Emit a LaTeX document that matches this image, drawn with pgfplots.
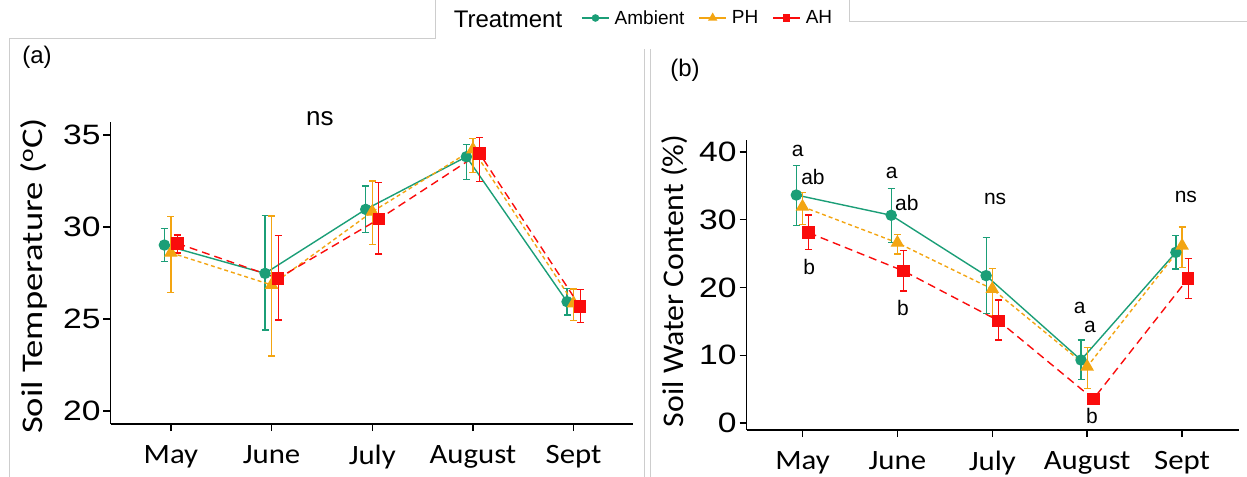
\documentclass[border=0pt]{standalone}
\usepackage{fontspec}
\setmainfont{Liberation Sans}
\newfontfamily\carlito{Carlito}
\usepackage{pgfplots}
\usepackage{pgfplotstable}
\pgfplotsset{compat=1.18}
\definecolor{amb}{RGB}{27,158,119}
\definecolor{ph}{RGB}{243,165,18}
\definecolor{ah}{RGB}{250,12,12}
\definecolor{frame}{RGB}{205,205,205}

% Panel (a): soil temperature
\pgfplotstableread{
x y lo hi
-0.065 29.02 28.11 29.93
0.935 27.48 24.40 30.61
1.935 30.96 29.69 32.23
2.935 33.82 32.59 34.49
3.935 25.94 25.22 26.67
}\tAmb
\pgfplotstableread{
x y lo hi
0 28.60 26.43 30.56
1 26.85 22.99 30.60
2 30.83 29.06 32.50
3 34.22 32.95 34.82
4 25.85 24.91 26.63
}\tPH
\pgfplotstableread{
x y lo hi
0.065 29.11 28.59 29.57
1.065 27.21 24.95 29.53
2.065 30.43 28.53 32.43
3.065 34.00 32.46 34.87
4.065 25.67 24.80 26.61
}\tAH
% Panel (b): soil water content
\pgfplotstableread{
x y lo hi
-0.065 33.65 29.20 37.98
0.935 30.66 26.67 34.64
1.935 21.75 16.19 27.36
2.935 9.30 6.45 12.25
3.935 25.19 22.73 27.70
}\wAmb
\pgfplotstableread{
x y lo hi
0 31.93 29.25 34.05
1 26.60 24.94 27.85
2 19.78 15.79 22.83
3 8.31 5.12 11.17
4 26.17 22.98 28.93
}\wPH
\pgfplotstableread{
x y lo hi
0.065 28.09 25.63 30.70
1.065 22.44 19.48 25.44
2.065 15.10 12.25 18.15
3.065 3.54 2.80 4.38
4.065 21.35 18.40 24.30
}\wAH

\newcommand{\fs}[1]{\fontsize{#1bp}{#1bp}\selectfont}

\pgfplotsset{
  panel/.style={
    scale only axis,
    clip=false,
    axis lines=left,
    axis line style={-, black, line width=1.5bp},
    tick align=outside,
    major tick length=7bp,
    tick style={black, line width=1.4bp},
    xtick={0,1,2,3,4},
    xticklabels={May,June,July,August,Sept},
    xticklabel style={font=\carlito\fs{28}, xscale=1.1, yshift=-11bp},
    yticklabel style={font=\fs{28}, xscale=1.2, xshift=1bp},
    /pgf/number format/assume math mode=true,
    error bars/y dir=both,
    error bars/y explicit,
    error bars/error bar style={solid, line width=1.2bp},
    error bars/error mark options={rotate=90, solid, line width=1.2bp, mark size=3.5bp},
  },
  sAmb/.style={color=amb, line width=1.4bp, mark=*, mark size=5bp, mark options={solid}},
  sPH/.style={color=ph, line width=1.4bp, dash pattern=on 4bp off 3bp, mark=triangle*, mark size=6.5bp, mark options={solid}},
  sAH/.style={color=ah, line width=1.4bp, dash pattern=on 8bp off 5bp, mark=square*, mark size=5.5bp, mark options={solid}},
}

\begin{document}
\begin{tikzpicture}
\useasboundingbox (0bp,0bp) rectangle (1247bp,-477bp);
% panel frames
\draw[frame, line width=1bp] (9bp,-477bp) -- (9bp,-38bp) -- (435bp,-38bp) -- (435bp,0bp);
\draw[frame, line width=1bp] (849bp,0bp) -- (849bp,-21bp) -- (1247bp,-21bp);
\draw[frame, line width=1bp] (644bp,-49bp) -- (644bp,-477bp);
\draw[frame, line width=1bp] (650bp,-49bp) -- (650bp,-477bp);

\begin{axis}[panel,
  at={(110.5bp,-424bp)}, anchor=south west,
  width=522.5bp, height=302bp,
  xmin=-0.6, xmax=4.59, ymin=19.29, ymax=35.71,
  ytick={20,25,30,35},
  ylabel={Soil Temperature (\textsuperscript{o}C)},
  every axis y label/.style={at={(axis description cs:-0.147,0.49)}, rotate=90, xscale=1.22, anchor=center, font=\carlito\fs{30}},
  legend style={at={(axis description cs:0.9005,1.3444)}, anchor=west,
    draw=none, fill=none, inner sep=0pt, font=\fs{19},
    nodes={inner sep=0pt},
    /tikz/every odd column/.append style={column sep=5bp},
    /tikz/every even column/.append style={column sep=14bp}},
  legend columns=-1,
  legend image code/.code={
    \draw[#1, solid] (0bp,0bp) -- (27bp,0bp);
    \draw[#1, solid] plot coordinates {(13.5bp,0bp)};
  },
]
\addlegendimage{color=amb, line width=1.5bp, mark=*, mark size=3bp}
\addlegendentry{Ambient}
\addlegendimage{color=ph, line width=1.5bp, mark=triangle*, mark size=4bp}
\addlegendentry{PH}
\addlegendimage{color=ah, line width=1.5bp, mark=square*, mark size=3bp}
\addlegendentry{AH}

\addplot[sAmb, forget plot] table[x=x, y=y, y error plus expr=\thisrow{hi}-\thisrow{y}, y error minus expr=\thisrow{y}-\thisrow{lo}] {\tAmb};
\addplot[sPH, forget plot] table[x=x, y=y, y error plus expr=\thisrow{hi}-\thisrow{y}, y error minus expr=\thisrow{y}-\thisrow{lo}] {\tPH};
\addplot[sAH, forget plot] table[x=x, y=y, y error plus expr=\thisrow{hi}-\thisrow{y}, y error minus expr=\thisrow{y}-\thisrow{lo}] {\tAH};

\node[font=\fs{26}] at (axis cs:1.48,35.87) {ns};
\end{axis}

\begin{axis}[panel,
  at={(746.5bp,-430bp)}, anchor=south west,
  width=492.5bp, height=290bp,
  xmin=-0.59, xmax=4.6, ymin=-1.03, ymax=41.77,
  ytick={0,10,20,30,40},
  ylabel={Soil Water Content (\%)},
  every axis y label/.style={at={(axis description cs:-0.147,0.514)}, rotate=90, xscale=1.06, anchor=center, font=\carlito\fs{30}},
]
\addplot[sAmb] table[x=x, y=y, y error plus expr=\thisrow{hi}-\thisrow{y}, y error minus expr=\thisrow{y}-\thisrow{lo}] {\wAmb};
\addplot[sPH] table[x=x, y=y, y error plus expr=\thisrow{hi}-\thisrow{y}, y error minus expr=\thisrow{y}-\thisrow{lo}] {\wPH};
\addplot[sAH] table[x=x, y=y, y error plus expr=\thisrow{hi}-\thisrow{y}, y error minus expr=\thisrow{y}-\thisrow{lo}] {\wAH};

\begin{scope}[every node/.style={font=\fs{21}}]
\node at (axis cs:-0.05,40.1) {a};
\node at (axis cs:0.11,36.3) {ab};
\node at (axis cs:0.07,23.1) {b};
\node at (axis cs:0.94,36.9) {a};
\node at (axis cs:1.10,32.5) {ab};
\node at (axis cs:1.06,17.0) {b};
\node at (axis cs:2.03,33.1) {ns};
\node at (axis cs:2.92,17.0) {a};
\node at (axis cs:3.03,14.2) {a};
\node at (axis cs:3.05,1.0) {b};
\node at (axis cs:4.04,33.4) {ns};
\end{scope}
\end{axis}

\node[font=\fs{24}] at (37bp,-57bp) {(a)};
\node[font=\fs{24}] at (685bp,-70bp) {(b)};
\node[font=\fs{24}] at (508bp,-19bp) {Treatment};
\end{tikzpicture}
\end{document}
